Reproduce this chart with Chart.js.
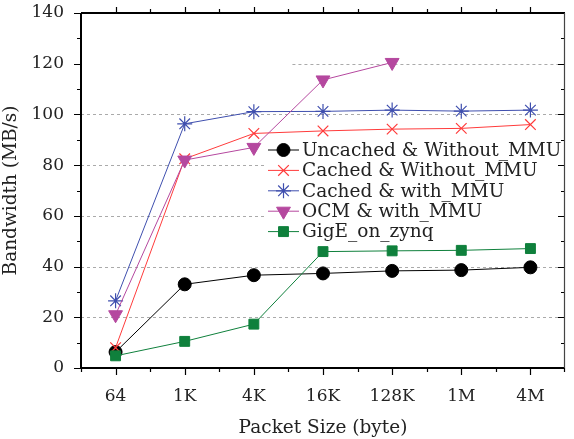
<!DOCTYPE html>
<html>
<head>
<meta charset="utf-8">
<script src="https://cdn.jsdelivr.net/npm/chart.js@4/dist/chart.umd.min.js"></script>
<style>
  html, body { margin: 0; padding: 0; background: #fff; }
  #wrap { width: 574px; height: 439px; }
</style>
</head>
<body>
<div id="wrap"><canvas id="grafico-banda" width="574" height="439"></canvas></div>
<script>
// Dados
const tamanhos = ["64", "1K", "4K", "16K", "128K", "1M", "4M"];
const uncachedSemMMU = [6.3, 33, 36.6, 37.3, 38.3, 38.6, 39.7];
const cachedSemMMU = [8, 82.5, 92.5, 93.5, 94.2, 94.5, 96];
const cachedComMMU = [26.5, 96.3, 101.1, 101.2, 101.7, 101.3, 101.7];
const ocmComMMU = [21, 82, 87, 113.6, 120.5, null, null];
const gigeZynq = [4.8, 10.5, 17.3, 45.9, 46.2, 46.4, 47.1];
const yTicks = [0, 20, 40, 60, 80, 100, 120, 140];
const gridValores = [20, 40, 60, 80, 100, 120];

const fonte = "'DejaVu Serif', serif";

function serie(label, data, cor, ponto, raio, ordem, rotacao) {
  return {
    label: label,
    data: data,
    borderColor: cor,
    backgroundColor: cor,
    borderWidth: 1,
    pointStyle: ponto,
    pointRadius: raio,
    pointHoverRadius: raio,
    pointRotation: rotacao || 0,
    pointBorderWidth: ponto === "star" || ponto === "crossRot" ? 1.2 : 1,
    order: ordem,
    spanGaps: false,
  };
}

// Grade tracejada (a linha de 120 começa entre 4K e 16K)
const gradePlugin = {
  id: "grade",
  beforeDatasetsDraw(chart) {
    const { ctx, chartArea, scales } = chart;
    ctx.save();
    ctx.strokeStyle = "#aaaaaa";
    ctx.lineWidth = 1;
    ctx.setLineDash([3, 3]);
    gridValores.forEach((v) => {
      const y = Math.round(scales.y.getPixelForValue(v)) + 0.5;
      let x0 = chartArea.left;
      if (v === 120) {
        x0 = (scales.x.getPixelForValue(2) + scales.x.getPixelForValue(3)) / 2 + 4;
      }
      ctx.beginPath();
      ctx.moveTo(x0, y);
      ctx.lineTo(chartArea.right, y);
      ctx.stroke();
    });
    ctx.restore();

    // Legenda dentro da área do gráfico
    const x0 = chartArea.left + 187;
    const y0 = chartArea.top + 137;
    const passo = 20.4;
    ctx.save();
    ctx.fillStyle = "#fff";
    ctx.fillRect(x0 - 2, y0 - 11, chartArea.right - x0 + 1, passo * 4 + 22);
    ctx.font = "18.5px " + fonte;
    ctx.textBaseline = "middle";
    chart.data.datasets.forEach((ds, i) => {
      const y = y0 + i * passo;
      ctx.strokeStyle = ds.borderColor;
      ctx.lineWidth = 1;
      ctx.setLineDash([]);
      ctx.beginPath();
      ctx.moveTo(x0, y);
      ctx.lineTo(x0 + 31, y);
      ctx.stroke();
      ctx.fillStyle = ds.backgroundColor;
      ctx.lineWidth = ds.pointBorderWidth;
      Chart.helpers.drawPoint(ctx, {
        pointStyle: ds.pointStyle,
        radius: ds.pointRadius,
        borderWidth: ds.pointBorderWidth,
        rotation: ds.pointRotation,
      }, x0 + 15.5, y);
      ctx.fillStyle = "#222";
      ctx.fillText(ds.label, x0 + 34, y + 1);
    });
    ctx.restore();
  },
  afterDatasetsDraw(chart) {
    // Moldura e marcas dos eixos
    const { ctx, chartArea, scales } = chart;
    const { left, right, top, bottom } = chartArea;
    ctx.save();
    ctx.setLineDash([]);
    ctx.strokeStyle = "#000";
    ctx.lineWidth = 1.2;
    ctx.beginPath();
    // eixo y esquerdo e direito
    for (let v = 0; v <= 140; v += 10) {
      const y = Math.round(scales.y.getPixelForValue(v)) + 0.5;
      const len = v % 20 === 0 ? 7 : 4;
      ctx.moveTo(left - len, y);
      ctx.lineTo(left, y);
      ctx.moveTo(right, y);
      ctx.lineTo(right - len, y);
    }
    // eixo x inferior e superior
    const n = tamanhos.length;
    for (let i = 0; i < n; i++) {
      const x = Math.round(scales.x.getPixelForValue(i)) + 0.5;
      ctx.moveTo(x, bottom);
      ctx.lineTo(x, bottom + 7);
      ctx.moveTo(x, top);
      ctx.lineTo(x, top - 6);
      if (i < n - 1) {
        const xm = Math.round((scales.x.getPixelForValue(i) + scales.x.getPixelForValue(i + 1)) / 2) + 0.5;
        ctx.moveTo(xm, bottom);
        ctx.lineTo(xm, bottom + 4);
        ctx.moveTo(xm, top);
        ctx.lineTo(xm, top - 4);
      }
    }
    ctx.moveTo(left + 0.5, bottom);
    ctx.lineTo(left + 0.5, bottom + 4);
    ctx.moveTo(right - 0.5, bottom);
    ctx.lineTo(right - 0.5, bottom + 4);
    ctx.stroke();

    ctx.lineWidth = 2;
    ctx.beginPath();
    ctx.moveTo(left, top);
    ctx.lineTo(left, bottom);
    ctx.lineTo(right, bottom);
    ctx.moveTo(left, top);
    ctx.lineTo(right, top);
    ctx.stroke();
    ctx.strokeStyle = "#444";
    ctx.lineWidth = 1.2;
    ctx.beginPath();
    ctx.moveTo(right - 0.5, top);
    ctx.lineTo(right - 0.5, bottom);
    ctx.stroke();
    ctx.restore();
  },
};

function gerarGraficoBanda() {
  const ctx = document.getElementById("grafico-banda").getContext("2d");
  return new Chart(ctx, {
    type: "line",
    data: {
      labels: tamanhos,
      datasets: [
        serie("Uncached & Without_MMU", uncachedSemMMU, "#000000", "circle", 6.5, 5),
        serie("Cached & Without_MMU", cachedSemMMU, "#ff3b3b", "crossRot", 7.5, 4),
        serie("Cached & with_MMU", cachedComMMU, "#3f4fae", "star", 7.5, 3),
        serie("OCM & with_MMU", ocmComMMU, "#b5489f", "triangle", 8, 2, 180),
        serie("GigE_on_zynq", gigeZynq, "#0f803c", "rect", 7, 1),
      ],
    },
    options: {
      responsive: false,
      animation: false,
      layout: { padding: { left: 0, right: 8, top: 13, bottom: 0 } },
      plugins: {
        legend: { display: false },
        tooltip: { enabled: false },
      },
      scales: {
        x: {
          offset: true,
          grid: { display: false },
          border: { display: false },
          ticks: {
            color: "#222",
            font: { family: fonte, size: 17 },
            padding: 10,
            maxRotation: 0,
          },
          title: {
            display: true,
            text: "Packet Size (byte)",
            color: "#222",
            font: { family: fonte, size: 18.5 },
            padding: { top: 2, bottom: 0 },
          },
          afterFit(scale) {
            scale.height = 71;
            scale.paddingLeft = 0;
            scale.paddingRight = 0;
          },
        },
        y: {
          min: 0,
          max: 140,
          afterBuildTicks(scale) { scale.ticks = yTicks.map((v) => ({ value: v })); },
          grid: { display: false },
          border: { display: false },
          ticks: {
            color: "#222",
            font: { family: fonte, size: 17 },
            padding: 9,
          },
          title: {
            display: true,
            text: "Bandwidth (MB/s)",
            color: "#222",
            font: { family: fonte, size: 18.5 },
            padding: { top: 0, bottom: 2 },
          },
          afterFit(scale) {
            scale.width = 81;
            scale.paddingTop = 0;
            scale.paddingBottom = 0;
          },
        },
      },
    },
    plugins: [gradePlugin],
  });
}

gerarGraficoBanda();
</script>
</body>
</html>
